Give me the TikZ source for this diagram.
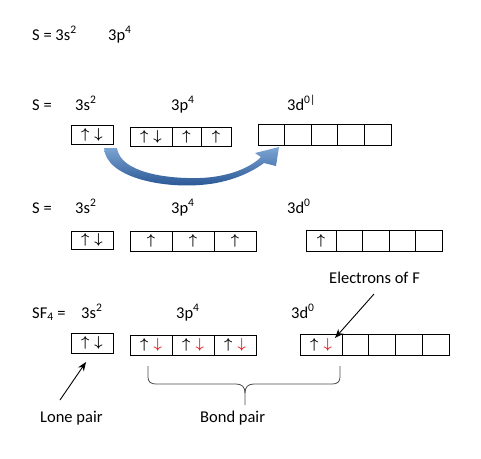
\documentclass[tikz,border=0pt]{standalone}
\usepackage{fontspec}
\setmainfont{Carlito}
\usepackage{xcolor}
\usepackage{tikz}
\usetikzlibrary{arrows.meta}
\definecolor{bondred}{RGB}{235,28,36}
\newcommand{\eup}{{\boldmath$\uparrow$}}
\newcommand{\edn}{{\boldmath$\downarrow$}}
\newcommand{\epair}{\eup\hspace{5pt}\edn}
\newcommand{\fpair}{\eup\hspace{5pt}\textcolor{bondred}{\edn}}

\begin{document}
\begin{tikzpicture}[x=1pt, y=-1pt,
  lbl/.style={anchor=base west, inner sep=0pt, font=\fontsize{16.5}{20}\selectfont},
  orb/.style={draw, line width=0.8pt, inner sep=0pt, font=\fontsize{14}{14}\selectfont}, >=Stealth]
  \useasboundingbox (0,0) rectangle (481,458);
  % ground state
  \node[lbl] (cfgS) at (32,40) {S = 3s\textsuperscript{2}};
  \node[lbl] (cfgP) at (108,40) {3p\textsuperscript{4}};
  % row 1: ground state boxes
  \node[lbl] (aS) at (32,110) {S =};
  \node[lbl] (aLs) at (75,110) {3s\textsuperscript{2}};
  \node[lbl] (aLp) at (171,110) {3p\textsuperscript{4}};
  \node[lbl] (aLd) at (287,110) {3d\textsuperscript{0|}};
  \node[orb, minimum width=42pt, minimum height=19pt] (aS1) at (92,134.5) {\epair};
  \node[orb, minimum width=42pt, minimum height=19pt] (aP1) at (151,136.5) {\epair};
  \node[orb, minimum width=29pt, minimum height=19pt] (aP2) at (186.5,136.5) {\eup};
  \node[orb, minimum width=30pt, minimum height=19pt] (aP3) at (216,136.5) {\eup};
  \foreach \k in {0,...,4}
    \node[orb, minimum width=26.6pt, minimum height=21pt] (aD\k) at (271.3+26.6*\k,134.5) {};
  % promotion arrow
  \shade[top color={rgb,255:red,125;green,165;blue,212}, bottom color={rgb,255:red,38;green,84;blue,146}]
    (104,148) .. controls (106,177) and (160,188) .. (200,185)
    .. controls (230,183) and (252,172) .. (264,163) -- (276,166) -- (279,147) -- (255,153) -- (261,157)
    .. controls (250,168) and (228,177) .. (200,178)
    .. controls (165,179) and (120,172) .. (117,148) -- cycle;
  % row 2: excited state
  \node[lbl] (bS) at (32,213) {S =};
  \node[lbl] (bLs) at (75,213) {3s\textsuperscript{2}};
  \node[lbl] (bLp) at (171,213) {3p\textsuperscript{4}};
  \node[lbl] (bLd) at (287,213) {3d\textsuperscript{0}};
  \node[orb, minimum width=42pt, minimum height=18pt] (bS1) at (92,240) {\epair};
  \foreach \k in {0,1,2}
    \node[orb, minimum width=42pt, minimum height=20pt] (bP\k) at (151+42*\k,241) {\eup\hspace{10pt}};
  \node[orb, minimum width=30pt, minimum height=21pt] (bD0) at (321,240.5) {\eup};
  \foreach \k in {1,...,4}
    \node[orb, minimum width=26.5pt, minimum height=21pt] (bD\k) at (322.75+26.5*\k,240.5) {};
  % row 3: SF4
  \node[lbl] (cS) at (32,318) {SF\textsubscript{4} =};
  \node[lbl] (cLs) at (81,318) {3s\textsuperscript{2}};
  \node[lbl] (cLp) at (176,318) {3p\textsuperscript{4}};
  \node[lbl] (cLd) at (291,318) {3d\textsuperscript{0}};
  \node[orb, minimum width=42pt, minimum height=20pt] (cS1) at (92,343) {\epair};
  \foreach \k in {0,1,2}
    \node[orb, minimum width=42pt, minimum height=20pt] (cP\k) at (151+42*\k,345) {\fpair};
  \node[orb, minimum width=42pt, minimum height=21pt] (cD0) at (321,344.5) {\fpair};
  \foreach \k in {1,...,4}
    \node[orb, minimum width=26.75pt, minimum height=21pt] (cD\k) at (328.6+26.75*\k,344.5) {};
  % annotations
  \node[lbl] (elecF) at (329,283) {Electrons of F};
  \node[lbl] (lone) at (40,422) {Lone pair};
  \node[lbl] (bond) at (200,422) {Bond pair};
  \coordinate (fTail) at (374,294);
  \coordinate (fTip) at (335,338);
  \coordinate (lTail) at (60,400);
  \coordinate (lTip) at (86,362);
  \draw[->, line width=0.9pt, >={Stealth[length=9pt, width=7pt]}] (fTail) -- (fTip);
  \draw[->, line width=0.9pt, >={Stealth[length=9pt, width=7pt]}] (lTail) -- (lTip);
  \draw[line width=0.8pt, black!70] (148,366) -- (148,377) .. controls (148,382) and (151,384) .. (156,384)
    -- (236,384) .. controls (242,384) and (245,387) .. (245,393) -- (245,405);
  \draw[line width=0.8pt, black!70] (340,366) -- (340,377) .. controls (340,382) and (337,384) .. (332,384)
    -- (254,384) .. controls (248,384) and (245,387) .. (245,393);
\end{tikzpicture}
\end{document}
